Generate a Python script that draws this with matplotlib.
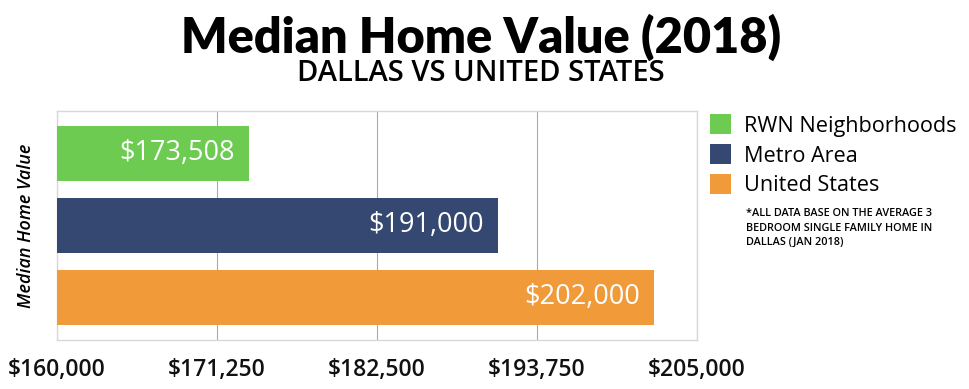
import matplotlib.pyplot as plt
from matplotlib.ticker import FuncFormatter

# data
labels = ["RWN Neighborhoods", "Metro Area", "United States"]
values = [173508, 191000, 202000]
colors = ["#6DCB52", "#344872", "#F09A3A"]
xticks = [160000, 171250, 182500, 193750, 205000]

plt.rcParams["font.family"] = ["Open Sans", "DejaVu Sans"]

fig = plt.figure(figsize=(9.69, 3.89), dpi=100)
ax = fig.add_axes([0.0588, 0.126, 0.6605, 0.5887])

pos = list(range(len(values)))
bars = ax.barh(pos, [v - xticks[0] for v in values], left=xticks[0], height=0.76,
               color=colors, label=labels, zorder=3)
for b, v in zip(bars, values):
    ax.text(v - 1000, b.get_y() + b.get_height() / 2, f"${v:,}", color="white",
            ha="right", va="center", fontsize=19.5, weight="medium", zorder=4)

ax.set_xlim(xticks[0], xticks[-1])
ax.set_ylim(2.59, -0.59)
ax.set_xticks(xticks)
ax.xaxis.set_major_formatter(FuncFormatter(lambda x, _: f"${x:,.0f}"))
ax.set_yticks([])
ax.tick_params(axis="x", length=0, labelsize=16.5, pad=13, colors="#111111")
for t in ax.get_xticklabels():
    t.set_fontweight("semibold")
ax.grid(axis="x", color="#aaaaaa", linewidth=0.8, zorder=0)
for s in ax.spines.values():
    s.set_color("#d8d8d8")
    s.set_linewidth(1.0)
ax.set_ylabel("Median Home Value", fontsize=13, style="italic", weight="semibold",
              labelpad=16)

fig.text(0.496, 0.905, "Median Home Value (2018)", ha="center", va="center",
         fontsize=35, weight="heavy", family=["Lato", "DejaVu Sans"])
fig.text(0.496, 0.81, "DALLAS VS UNITED STATES", ha="center", va="center",
         fontsize=21, weight="semibold")

fig.legend(handles=bars, labels=labels, loc="upper left",
           bbox_to_anchor=(0.724, 0.728), frameon=False,
           handlelength=0.95, handleheight=1.0, handletextpad=0.6, labelspacing=0.36,
           borderaxespad=0, prop={"size": 15.6})
fig.text(0.77, 0.465, "*ALL DATA BASE ON THE AVERAGE 3\nBEDROOM SINGLE FAMILY HOME IN\nDALLAS (JAN 2018)",
         ha="left", va="top", fontsize=7.8, weight="semibold", linespacing=1.45)

fig.savefig("out.png", dpi=100)
